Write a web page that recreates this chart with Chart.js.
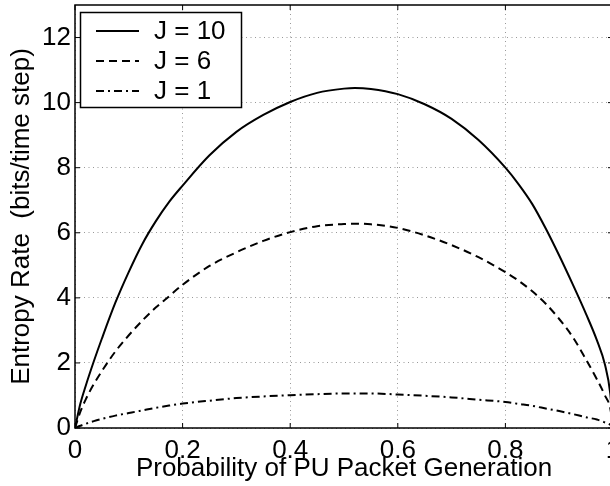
<!DOCTYPE html>
<html>
<head>
<meta charset="utf-8">
<script src="https://cdn.jsdelivr.net/npm/chart.js@4/dist/chart.umd.min.js"></script>
<style>
  html, body { margin: 0; padding: 0; background: #fff; overflow: hidden; }
  #entropy-chart { display: block; }
</style>
</head>
<body>
<canvas id="entropy-chart" width="620" height="486"></canvas>
<script>
// probability of PU packet generation (x)
var probs = [0, 0.01, 0.02, 0.035, 0.05, 0.075, 0.1, 0.125, 0.15, 0.175, 0.2, 0.25, 0.3, 0.35, 0.4, 0.45, 0.5, 0.52,
             0.55, 0.6, 0.65, 0.7, 0.75, 0.8, 0.825, 0.85, 0.875, 0.9, 0.925, 0.95, 0.97, 0.985, 0.995, 1];
// entropy rate (bits/time step)
var rateJ10 = [0, 0.75, 1.3, 2.05, 2.75, 3.85, 4.8, 5.65, 6.35, 6.95, 7.45, 8.38, 9.1, 9.62, 10.02, 10.3, 10.43, 10.45,
               10.42, 10.26, 9.95, 9.5, 8.85, 8.0, 7.48, 6.88, 6.13, 5.3, 4.42, 3.5, 2.7, 1.95, 1.05, 0];
var rateJ6  = [0, 0.5, 0.88, 1.35, 1.75, 2.35, 2.85, 3.3, 3.7, 4.05, 4.4, 4.98, 5.4, 5.75, 6.02, 6.2, 6.27, 6.28,
               6.26, 6.15, 5.92, 5.62, 5.25, 4.79, 4.52, 4.2, 3.82, 3.35, 2.8, 2.1, 1.5, 1.0, 0.6, 0];
var rateJ1  = [0, 0.07, 0.13, 0.21, 0.28, 0.38, 0.46, 0.54, 0.62, 0.69, 0.75, 0.84, 0.92, 0.97, 1.01, 1.04, 1.06, 1.06,
               1.06, 1.03, 0.99, 0.94, 0.87, 0.8, 0.74, 0.68, 0.6, 0.52, 0.43, 0.33, 0.26, 0.17, 0.1, 0];
var seriesLabels = ["J = 10", "J = 6", "J = 1"];
var xTicks = [0, 0.2, 0.4, 0.6, 0.8, 1];
var yTicks = [0, 2, 4, 6, 8, 10, 12];

var FONT = "'Liberation Sans', Arial, Helvetica, sans-serif";

function toPoints(ys) {
    var pts = [];
    for (var i = 0; i < probs.length; i++) {
        pts.push({x: probs[i], y: ys[i]});
    }
    return pts;
}

// matlab style box, inward ticks and legend
var boxPlugin = {
    id: 'boxPlugin',
    afterDraw: function(chart) {
        var ctx = chart.ctx;
        var a = chart.chartArea;
        var sx = chart.scales.x, sy = chart.scales.y;
        ctx.save();
        ctx.strokeStyle = '#000';
        ctx.lineWidth = 1;
        var tl = 5;
        sx.ticks.forEach(function(t) {
            var px = sx.getPixelForValue(t.value);
            ctx.beginPath();
            ctx.moveTo(px, a.bottom); ctx.lineTo(px, a.bottom - tl);
            ctx.moveTo(px, a.top); ctx.lineTo(px, a.top + tl);
            ctx.stroke();
        });
        sy.ticks.forEach(function(t) {
            var py = sy.getPixelForValue(t.value);
            ctx.beginPath();
            ctx.moveTo(a.left, py); ctx.lineTo(a.left + tl, py);
            ctx.moveTo(a.right, py); ctx.lineTo(a.right - tl, py);
            ctx.stroke();
        });
        ctx.lineWidth = 1.5;
        ctx.strokeRect(a.left, a.top, a.right - a.left, a.bottom - a.top);

        // legend
        var lx = 80.5, ly = 12.5, lw = 161, lh = 95;
        ctx.fillStyle = '#fff';
        ctx.fillRect(lx, ly, lw, lh);
        ctx.strokeRect(lx, ly, lw, lh);
        ctx.font = '26px ' + FONT;
        ctx.textBaseline = 'middle';
        ctx.textAlign = 'left';
        chart.data.datasets.forEach(function(ds, i) {
            var rowY = 31 + i * 30;
            ctx.strokeStyle = ds.borderColor;
            ctx.lineWidth = ds.borderWidth;
            ctx.setLineDash(ds.borderDash || []);
            ctx.beginPath();
            ctx.moveTo(96, rowY); ctx.lineTo(139, rowY);
            ctx.stroke();
            ctx.setLineDash([]);
            ctx.fillStyle = '#000';
            ctx.fillText(ds.label, 154, rowY + 1);
        });
        ctx.restore();
    }
};

new Chart(document.getElementById("entropy-chart"), {
    type: 'line',
    data: {
        datasets: [
            {label: seriesLabels[0], data: toPoints(rateJ10), borderColor: '#000', borderWidth: 2, borderDash: [], pointRadius: 0, cubicInterpolationMode: 'monotone'},
            {label: seriesLabels[1], data: toPoints(rateJ6), borderColor: '#000', borderWidth: 2, borderDash: [8, 5], pointRadius: 0, cubicInterpolationMode: 'monotone'},
            {label: seriesLabels[2], data: toPoints(rateJ1), borderColor: '#000', borderWidth: 2, borderDash: [8, 4, 2, 4], pointRadius: 0, cubicInterpolationMode: 'monotone'}
        ]
    },
    options: {
        responsive: false,
        animation: false,
        layout: {padding: {top: 5, right: 7, left: 0, bottom: 0}},
        plugins: {
            legend: {display: false},
            tooltip: {enabled: false}
        },
        scales: {
            x: {
                type: 'linear',
                min: 0,
                max: 1,
                afterBuildTicks: function(scale) {
                    scale.ticks = xTicks.map(function(v) { return {value: v}; });
                },
                afterFit: function(scale) {
                    scale.height = 58;
                    scale.paddingLeft = 0;
                    scale.paddingRight = 0;
                },
                ticks: {
                    color: '#000',
                    font: {family: FONT, size: 26},
                    padding: 7,
                    maxRotation: 0,
                    callback: function(v) { return String(v); }
                },
                grid: {color: '#999', lineWidth: 1, drawTicks: false},
                border: {display: false, dash: [1, 3.5]},
                title: {
                    display: true,
                    text: 'Probability of PU Packet Generation',
                    color: '#000',
                    font: {family: FONT, size: 26},
                    padding: {top: 0, bottom: 2}
                }
            },
            y: {
                type: 'linear',
                min: 0,
                max: 13,
                afterBuildTicks: function(scale) {
                    scale.ticks = yTicks.map(function(v) { return {value: v}; });
                },
                afterFit: function(scale) {
                    scale.width = 75;
                    scale.paddingTop = 0;
                    scale.paddingBottom = 0;
                },
                ticks: {
                    color: '#000',
                    font: {family: FONT, size: 26},
                    padding: 4
                },
                grid: {color: '#999', lineWidth: 1, drawTicks: false},
                border: {display: false, dash: [1, 3.5]},
                title: {
                    display: true,
                    text: 'Entropy Rate  (bits/time step)',
                    color: '#000',
                    font: {family: FONT, size: 26},
                    padding: {top: 6, bottom: 0}
                }
            }
        }
    },
    plugins: [boxPlugin]
});
</script>
</body>
</html>
